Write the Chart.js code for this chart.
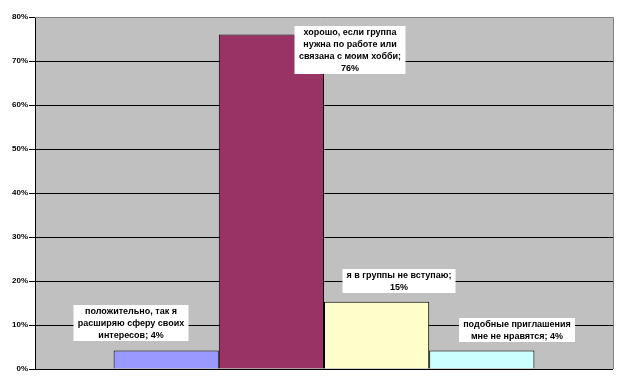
<!DOCTYPE html>
<html>
<head>
<meta charset="utf-8">
<script src="https://cdn.jsdelivr.net/npm/chart.js@4"></script>
<style>
  html, body { margin: 0; padding: 0; background: #fff; }
  #wrap { width: 623px; height: 387px; }
</style>
</head>
<body>
<div id="wrap"><canvas id="chart" width="623" height="387"></canvas></div>
<script>
// Data
const seriesNames = [
    'положительно, так я расширяю сферу своих интересов',
    'хорошо, если группа нужна по работе или связана с моим хобби',
    'я в группы не вступаю',
    'подобные приглашения мне не нравятся'
];
const seriesValues = [4.2, 76, 15.3, 4.2];
const seriesLabels = [
    ['положительно, так я', 'расширяю сферу своих', 'интересов; 4%'],
    ['хорошо, если группа', 'нужна по работе или', 'связана с моим хобби;', '76%'],
    ['я в группы не вступаю;', '15%'],
    ['подобные приглашения', 'мне не нравятся; 4%']
];
const seriesColors = ['#9999FF', '#993366', '#FFFFCC', '#CCFFFF'];
const yTicks = [0, 10, 20, 30, 40, 50, 60, 70, 80];

// where each label box sits, relative to the top centre of its bar
const labelOffsets = [[-35, -10], [79, 39], [22, -9], [35, -9]];

const LABEL_FONT = 'bold 9px "Liberation Sans", Arial, sans-serif';
const LINE_H = 12;

// grey plot area with gray top / right edges
const plotArea = {
    id: 'plotArea',
    beforeDraw: function (chart) {
        const a = chart.chartArea;
        const ctx = chart.ctx;
        ctx.save();
        ctx.fillStyle = '#C0C0C0';
        ctx.fillRect(a.left, a.top, a.right - a.left, a.bottom - a.top);
        ctx.restore();
    },
    afterDraw: function (chart) {
        const a = chart.chartArea;
        const ctx = chart.ctx;
        ctx.save();
        ctx.lineWidth = 1;
        ctx.strokeStyle = '#808080';
        ctx.beginPath();
        ctx.moveTo(a.left, a.top + 0.5);
        ctx.lineTo(a.right + 0.5, a.top + 0.5);
        ctx.lineTo(a.right + 0.5, a.bottom);
        ctx.stroke();
        ctx.strokeStyle = '#000';
        ctx.beginPath();
        ctx.moveTo(a.left, a.bottom + 0.5);
        ctx.lineTo(a.right, a.bottom + 0.5);
        ctx.stroke();
        ctx.restore();
    }
};

// white-boxed data labels
const boxLabels = {
    id: 'boxLabels',
    afterDraw: function (chart) {
        const ctx = chart.ctx;
        ctx.save();
        ctx.font = LABEL_FONT;
        ctx.textAlign = 'center';
        ctx.textBaseline = 'middle';
        chart.data.datasets.forEach(function (ds, i) {
            const bar = chart.getDatasetMeta(i).data[0];
            if (!bar) return;
            const lines = seriesLabels[i];
            const cx = Math.round(bar.x + labelOffsets[i][0]);
            const bottom = Math.round(bar.y + labelOffsets[i][1]);
            let w = 0;
            lines.forEach(function (t) { w = Math.max(w, ctx.measureText(t).width); });
            w = Math.ceil(w) + 8;
            const h = lines.length * LINE_H;
            ctx.fillStyle = '#fff';
            ctx.fillRect(cx - w / 2, bottom - h, w, h);
            ctx.fillStyle = '#000';
            lines.forEach(function (t, k) {
                ctx.fillText(t, cx, bottom - h + LINE_H * k + LINE_H / 2 + 0.5);
            });
        });
        ctx.restore();
    }
};

const datasets = seriesValues.map(function (v, i) {
    return {
        label: seriesNames[i],
        data: [v],
        backgroundColor: seriesColors[i],
        borderColor: '#000',
        borderWidth: 1,
        borderSkipped: 'bottom',
        categoryPercentage: 0.728,
        barPercentage: 1
    };
});

new Chart(document.getElementById('chart').getContext('2d'), {
    type: 'bar',
    data: { labels: [''], datasets: datasets },
    options: {
        responsive: false,
        animation: false,
        layout: { padding: { top: 17, right: 10, bottom: 18, left: 0 } },
        plugins: {
            legend: { display: false },
            tooltip: { enabled: false }
        },
        scales: {
            x: { display: false },
            y: {
                min: 0,
                max: 80,
                afterBuildTicks: function (scale) {
                    scale.ticks = yTicks.map(function (v) { return { value: v }; });
                },
                afterFit: function (scale) { scale.width = 35; },
                ticks: {
                    callback: function (v) { return v + '%'; },
                    color: '#000',
                    padding: 1,
                    font: { family: '"Liberation Sans", Arial, sans-serif', size: 8, weight: 'bold' }
                },
                grid: { color: '#000', lineWidth: 1, tickLength: 6 },
                border: { display: true, color: '#000', width: 1 }
            }
        }
    },
    plugins: [plotArea, boxLabels]
});
</script>
</body>
</html>
